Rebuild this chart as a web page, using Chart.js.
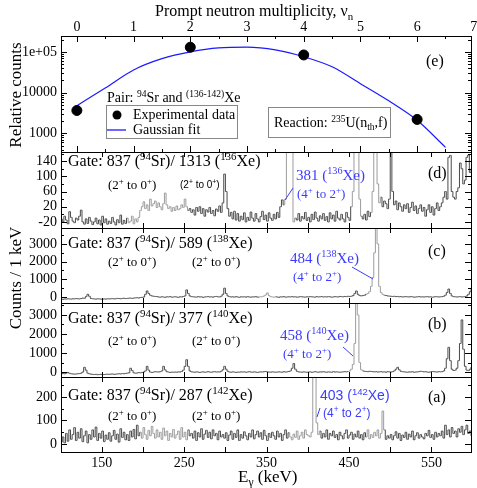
<!DOCTYPE html>
<html>
<head>
<meta charset="utf-8">
<script src="https://cdn.jsdelivr.net/npm/chart.js@4.4.0/dist/chart.umd.min.js"></script>
<style>
  html, body { margin: 0; padding: 0; background: #fff; }
  #wrap { position: relative; width: 477px; height: 488px; }
</style>
</head>
<body>
<div id="wrap"><canvas id="chart" width="477" height="488"></canvas></div>
<script>
// panel (e): multiplicidad de neutrones
const nuPoints = [0, 2, 4, 6]
const nuCounts = [3650, 130000, 84000, 2200]
const fitNu = [0, 0.5, 1, 1.5, 2, 2.5, 3, 3.5, 4, 4.5, 5, 5.5, 6, 6.5]
const fitCounts = [4800, 13000, 36000, 68000, 100000, 125000, 130000, 112000, 76000, 43000, 16600, 6300, 2100, 455]

// espectros: bins de 2 keV desde 100 keV
const binStart = 100
const binWidth = 2

// (d) gate 1313 (136Xe)
const specD = [
  -12,-20,-5,-15,-25,7,-8,-18,-22,-10,
  -15,-5,11,-20,-26,-12,-24,-8,-18,-27,
  -20,-10,-25,-15,-28,-5,-22,-12,-26,-18,
  -24,-8,-20,-28,-14,-22,-2,-26,-16,-24,
  -10,-22,-18,-5,-25,-12,-20,-8,10,20,
  33,15,25,10,40,22,28,35,18,30,
  20,12,28,56,25,15,20,8,18,10,
  22,12,15,25,18,40,20,10,15,5,
  12,-2,18,8,20,2,15,-5,12,6,
  18,2,10,-4,14,8,22,5,30,106,
  60,15,-5,5,-12,8,-15,2,-18,-5,
  -14,4,-20,-8,-16,6,-10,-18,2,-12,
  -20,-6,8,-14,-2,-18,4,-10,-16,0,
  -12,5,-8,20,38,25,40,300,400,400,
  350,-20,-10,-15,2,-18,-6,-12,5,-16,
  -8,-20,0,-14,6,-10,-18,-4,-12,2,
  -16,-6,-20,4,-12,-2,-18,8,-10,-15,
  0,-12,-20,5,-8,-16,20,60,250,300,
  250,40,-5,-12,0,-15,8,-6,5,60,
  350,400,80,30,45,20,35,28,15,40,
  180,60,25,35,12,30,20,8,25,15,
  28,5,18,32,10,22,2,15,25,8,
  18,-5,12,25,5,20,-2,15,30,10,
  20,30,45,60,40,150,155,60,45,40,
  60,70,135,120,80,90,150,156,110,120
]

// (c) gate 589 (138Xe)
const specC = [
  -120,-130,-110,-120,-100,-110,-120,-100,-110,-90,
  -100,-110,-90,-60,-80,20,150,40,-80,-100,
  -110,-120,-100,-110,-120,-130,-110,-120,-100,-110,
  -100,-90,-110,-100,-80,-90,-100,-80,-70,-90,
  -80,-70,-60,-80,-60,-50,-40,-60,-30,-20,
  0,150,340,200,100,60,40,30,20,0,
  -10,10,0,-20,10,0,20,-10,0,10,
  0,-20,10,0,30,60,400,200,60,20,
  10,0,-10,20,0,10,-20,0,10,20,
  0,10,-10,20,30,10,0,40,150,500,
  200,60,20,0,10,-10,20,0,-20,10,
  0,10,-10,20,0,-10,10,0,20,-10,
  0,10,20,60,120,230,80,20,0,-10,
  10,0,-20,10,0,20,-10,0,10,0,
  20,0,10,-10,0,20,10,0,-10,10,
  0,20,10,0,-10,20,0,10,20,0,
  10,0,20,10,-10,0,20,10,0,30,
  20,10,30,20,40,30,40,80,200,340,
  150,80,60,80,100,150,200,300,600,1100,
  2500,8000,3000,600,250,150,100,80,60,50,
  40,30,40,20,30,10,20,0,10,20,
  10,0,20,10,-10,0,10,20,0,10,
  0,10,20,0,10,-10,0,20,10,0,
  10,20,40,100,250,450,200,60,20,10,
  0,10,20,0,10,20,60,150,300,500
]

// (b) gate 377 (140Xe)
const specB = [
  -100,-80,-90,-60,-20,-70,-90,-100,-110,-100,
  -90,-80,-60,0,250,100,-60,-90,-110,-120,
  -130,-120,-140,-130,-120,-140,-130,-120,-110,-120,
  -110,-100,-120,-110,-100,-90,-100,-80,-90,-70,
  -60,-40,200,80,-40,-60,-50,-30,-40,-20,
  0,60,300,100,0,-20,0,20,10,0,
  20,60,300,120,20,0,-20,0,-10,0,
  -10,10,0,30,100,300,650,300,60,10,
  0,-10,10,0,-20,0,10,-10,0,20,
  0,-10,10,20,0,10,0,40,120,300,
  150,40,0,-10,10,0,-20,0,-10,10,
  0,10,-10,0,20,0,-10,10,0,-20,
  0,10,0,20,30,10,0,-10,10,0,
  -10,0,10,0,-10,20,0,10,30,60,
  200,450,150,40,10,0,-10,10,0,-10,
  0,10,-10,0,20,0,-10,10,0,20,
  0,-10,10,0,-10,20,0,10,0,-10,
  0,10,20,10,30,60,150,400,1500,6000,
  3000,500,120,60,40,30,20,40,30,20,
  10,20,0,10,20,0,10,-10,20,10,
  0,20,60,150,250,120,40,20,10,0,
  -10,10,0,20,-10,0,10,20,40,30,
  10,20,0,-10,10,30,20,10,0,20,
  10,20,60,200,700,1300,600,150,80,100,
  200,600,1500,2740,1200,300,100,80,150,260
]

// (a) gate 287 (142Xe)
const specA = [
  8,30,5,45,12,60,20,40,70,15,
  50,25,65,10,35,55,5,40,20,60,
  30,72,15,45,25,55,10,38,20,48,
  12,35,58,20,42,8,65,28,50,18,
  40,15,55,30,62,22,80,35,50,25,
  70,40,20,58,35,75,45,25,60,30,
  50,20,68,35,55,15,45,30,62,25,
  40,55,20,70,30,50,18,60,35,45,
  25,55,15,48,30,65,20,42,58,28,
  50,22,60,35,45,18,55,30,40,25,
  48,15,38,55,20,45,28,60,15,40,
  25,52,35,18,45,30,60,22,40,55,
  30,48,20,58,35,15,45,28,50,35,
  20,55,30,45,15,40,60,25,48,30,
  18,42,28,55,20,35,50,25,60,40,
  35,30,50,300,600,90,40,55,25,45,
  30,60,20,45,35,55,28,40,18,50,
  35,22,45,60,25,38,50,20,42,30,
  55,25,40,18,48,30,60,22,40,28,
  50,35,60,25,45,140,60,20,35,25,
  40,18,35,52,25,45,15,38,28,50,
  20,42,30,55,18,35,48,25,40,30,
  22,45,35,58,28,40,20,50,30,45,
  35,55,25,80,40,60,30,70,45,55,
  30,65,50,75,40,60,80,45,55,35
]

// ticks
const nuTicks = [0, 1, 2, 3, 4, 5, 6, 7]
const energyTicks = [150, 250, 350, 450, 550]
const logTicks = [1000, 10000, 100000]
const dTicks = [-20, 20, 60, 100, 140]
const cTicks = [0, 1000, 2000, 3000]
const bTicks = [0, 1000, 2000, 3000]
const aTicks = [0, 100, 200]

const SERIF = "'Liberation Serif', 'DejaVu Serif', serif"
const SANS = "'Liberation Sans', Arial, sans-serif"
const BLUE = "#3b3bff"
const DARK = "#4a4a4a"
const LIGHT = "#9c9c9c"

// tramos dibujados en gris claro (keV), solo estilo
const lightD = [[180, 254], [370, 384], [452, 464], [476, 488]]
const lightC = [[340, 360], [470, 492]]
const lightB = [[448, 466]]
const lightA = [[196, 254], [376, 414], [470, 492]]

function toPoints(values) {
    return values.map((v, i) => ({ x: binStart + binWidth * i + binWidth / 2, y: v }))
}

function spectrumDataset(values, axis, light) {
    return {
        data: toPoints(values),
        xAxisID: "x",
        yAxisID: axis,
        stepped: "middle",
        borderColor: DARK,
        borderWidth: 1,
        pointRadius: 0,
        fill: false,
        segment: {
            borderColor: (c) => light.some(([a, b]) => c.p0.parsed.x >= a && c.p0.parsed.x < b) ? LIGHT : DARK
        }
    }
}

// texto con super/subindices
function richText(ctx, x, y, parts, size, color, family) {
    ctx.save()
    ctx.fillStyle = color
    ctx.textBaseline = "alphabetic"
    ctx.textAlign = "left"
    let cx = x
    for (const [t, mode] of parts) {
        const fs = mode ? size * 0.68 : size
        ctx.font = fs + "px " + family
        const dy = mode === 1 ? -size * 0.38 : mode === -1 ? size * 0.22 : 0
        ctx.fillText(t, cx, y + dy)
        cx += ctx.measureText(t).width
    }
    ctx.restore()
    return cx
}

function fixedTicks(list) {
    return (scale) => { scale.ticks = list.map(v => ({ value: v })) }
}

// recortar cada espectro a su panel
const panelClip = {
    id: "panelClip",
    beforeDatasetDraw(chart, args) {
        const ds = chart.data.datasets[args.index]
        const ys = chart.scales[ds.yAxisID]
        const ca = chart.chartArea
        chart.ctx.save()
        chart.ctx.beginPath()
        chart.ctx.rect(ca.left, ys.top, ca.right - ca.left, ys.bottom - ys.top)
        chart.ctx.clip()
    },
    afterDatasetDraw(chart) {
        chart.ctx.restore()
    }
}

// marcos, ticks hacia adentro y anotaciones
const frames = {
    id: "frames",
    afterDraw(chart) {
        const ctx = chart.ctx
        const ca = chart.chartArea
        const L = ca.left, R = ca.right
        const xs = chart.scales.x
        const xn = chart.scales.xn
        ctx.save()
        ctx.strokeStyle = "#000"
        ctx.lineWidth = 1

        function hline(x1, x2, y) { ctx.beginPath(); ctx.moveTo(x1, y); ctx.lineTo(x2, y); ctx.stroke() }
        function vline(x, y1, y2) { ctx.beginPath(); ctx.moveTo(x, y1); ctx.lineTo(x, y2); ctx.stroke() }

        const ids = ["ye", "yd", "yc", "yb", "ya"]
        for (const id of ids) {
            const s = chart.scales[id]
            ctx.strokeRect(Math.round(L) + 0.5, Math.round(s.top) + 0.5, Math.round(R - L), Math.round(s.bottom - s.top))
        }

        // panel e: ticks de nu
        const e = chart.scales.ye
        for (let v = 0; v <= 7; v += 0.5) {
            const px = Math.round(xn.getPixelForValue(v)) + 0.5
            if (px <= L + 1 || px >= R - 1) continue
            const len = Number.isInteger(v) ? 6 : 3
            vline(px, e.top, e.top + len)
            vline(px, e.bottom, e.bottom - len)
        }
        ctx.fillStyle = "#000"
        ctx.font = "14px " + SERIF
        ctx.textAlign = "center"
        ctx.textBaseline = "middle"
        for (const v of nuTicks) {
            ctx.fillText(String(v), xn.getPixelForValue(v), 27)
        }
        // log ticks
        for (let k = 2; k <= 5; k++) {
            for (let m = 1; m <= 9; m++) {
                const v = m * Math.pow(10, k)
                if (v < e.min || v > e.max) continue
                const py = Math.round(e.getPixelForValue(v)) + 0.5
                const len = m === 1 ? 6 : 3
                hline(L, L + len, py)
                hline(R, R - len, py)
            }
        }

        // paneles de espectros
        const spec = [["yd", 20, -20], ["yc", 500, 0], ["yb", 500, 0], ["ya", 50, 0]]
        for (const [id, step, start] of spec) {
            const s = chart.scales[id]
            for (let v = start - step * 4; v <= s.max; v += step) {
                if (v < s.min) continue
                const py = Math.round(s.getPixelForValue(v)) + 0.5
                const major = s.ticks.some(t => t.value === v)
                const len = major ? 6 : 3
                hline(L, L + len, py)
                hline(R, R - len, py)
            }
            for (let ev = 150; ev < xs.max; ev += 50) {
                const px = Math.round(xs.getPixelForValue(ev)) + 0.5
                vline(px, s.top, s.top + 5)
                vline(px, s.bottom, s.bottom - 5)
            }
        }
        ctx.restore()

        // titulos de ejes
        ctx.save()
        ctx.fillStyle = "#000"
        ctx.textAlign = "center"
        ctx.font = "17px " + SERIF
        ctx.translate(21, 95)
        ctx.rotate(-Math.PI / 2)
        ctx.fillText("Relative counts", 0, 0)
        ctx.restore()
        ctx.save()
        ctx.fillStyle = "#000"
        ctx.textAlign = "center"
        ctx.font = "17px " + SERIF
        ctx.translate(21, 278)
        ctx.rotate(-Math.PI / 2)
        ctx.fillText("Counts / 1 keV", 0, 0)
        ctx.restore()

        richText(ctx, 155, 16, [["Prompt neutron multiplicity, \u03bd", 0], ["n", -1]], 16, "#000", SERIF)
        richText(ctx, 238, 482, [["E", 0], ["\u03b3", -1], [" (keV)", 0]], 17, "#000", SERIF)

        // leyenda panel e
        richText(ctx, 107, 102, [["Pair: ", 0], ["94", 1], ["Sr and ", 0], ["(136-142)", 1], ["Xe", 0]], 14, "#000", SERIF)
        ctx.save()
        ctx.strokeStyle = "#888"
        ctx.lineWidth = 1
        ctx.strokeRect(106.5, 105.5, 131, 33)
        ctx.fillStyle = "#000"
        ctx.beginPath()
        ctx.arc(117, 115, 4.5, 0, Math.PI * 2)
        ctx.fill()
        ctx.strokeStyle = "#1a1aff"
        ctx.lineWidth = 1.3
        ctx.beginPath()
        ctx.moveTo(107, 130)
        ctx.lineTo(126, 130)
        ctx.stroke()
        ctx.strokeStyle = "#888"
        ctx.lineWidth = 1
        ctx.strokeRect(268.5, 107.5, 122, 30)
        ctx.restore()
        richText(ctx, 133, 119, [["Experimental data", 0]], 14, "#000", SERIF)
        richText(ctx, 133, 134, [["Gaussian fit", 0]], 14, "#000", SERIF)
        richText(ctx, 274, 127, [["Reaction: ", 0], ["235", 1], ["U(n", 0], ["th", -1], [",f)", 0]], 14, "#000", SERIF)
        richText(ctx, 426, 66, [["(e)", 0]], 16, "#000", SERIF)

        // panel d
        richText(ctx, 68, 166, [["Gate: 837 (", 0], ["94", 1], ["Sr)/ 1313 (", 0], ["136", 1], ["Xe)", 0]], 16, "#000", SERIF)
        richText(ctx, 108, 189, [["(2", 0], ["+", 1], [" to 0", 0], ["+", 1], [")", 0]], 13, "#000", SERIF)
        richText(ctx, 180, 188, [["(2", 0], ["+", 1], [" to 0", 0], ["+", 1], [")", 0]], 10, "#000", SANS)
        richText(ctx, 296, 180, [["381 (", 0], ["136", 1], ["Xe)", 0]], 15, BLUE, SERIF)
        richText(ctx, 297, 198, [["(4", 0], ["+", 1], [" to 2", 0], ["+", 1], [")", 0]], 13, BLUE, SERIF)
        richText(ctx, 428, 178, [["(d)", 0]], 16, "#000", SERIF)

        // panel c
        richText(ctx, 68, 248, [["Gate: 837 (", 0], ["94", 1], ["Sr)/ 589 (", 0], ["138", 1], ["Xe)", 0]], 16, "#000", SERIF)
        richText(ctx, 108, 266, [["(2", 0], ["+", 1], [" to 0", 0], ["+", 1], [")", 0]], 13, "#000", SERIF)
        richText(ctx, 192, 266, [["(2", 0], ["+", 1], [" to 0", 0], ["+", 1], [")", 0]], 13, "#000", SERIF)
        richText(ctx, 290, 263, [["484 (", 0], ["138", 1], ["Xe)", 0]], 15, BLUE, SERIF)
        richText(ctx, 293, 281, [["(4", 0], ["+", 1], [" to 2", 0], ["+", 1], [")", 0]], 13, BLUE, SERIF)
        richText(ctx, 428, 256, [["(c)", 0]], 16, "#000", SERIF)

        // panel b
        richText(ctx, 68, 323, [["Gate: 837 (", 0], ["94", 1], ["Sr)/ 377 (", 0], ["140", 1], ["Xe)", 0]], 16, "#000", SERIF)
        richText(ctx, 108, 345, [["(2", 0], ["+", 1], [" to 0", 0], ["+", 1], [")", 0]], 13, "#000", SERIF)
        richText(ctx, 192, 345, [["(2", 0], ["+", 1], [" to 0", 0], ["+", 1], [")", 0]], 13, "#000", SERIF)
        richText(ctx, 280, 340, [["458 (", 0], ["140", 1], ["Xe)", 0]], 15, BLUE, SERIF)
        richText(ctx, 283, 358, [["(4", 0], ["+", 1], [" to 2", 0], ["+", 1], [")", 0]], 13, BLUE, SERIF)
        richText(ctx, 428, 329, [["(b)", 0]], 16, "#000", SERIF)

        // panel a
        richText(ctx, 68, 400, [["Gate: 837 (", 0], ["94", 1], ["Sr)/ 287 (", 0], ["142", 1], ["Xe)", 0]], 16, "#000", SERIF)
        richText(ctx, 108, 420, [["(2", 0], ["+", 1], [" to 0", 0], ["+", 1], [")", 0]], 13, "#000", SERIF)
        richText(ctx, 192, 420, [["(2", 0], ["+", 1], [" to 0", 0], ["+", 1], [")", 0]], 13, "#000", SERIF)
        richText(ctx, 320, 400, [["403 (", 0], ["142", 1], ["Xe)", 0]], 14, BLUE, SANS)
        richText(ctx, 323, 417, [["(4", 0], ["+", 1], [" to 2", 0], ["+", 1], [")", 0]], 12, BLUE, SANS)
        richText(ctx, 428, 402, [["(a)", 0]], 16, "#000", SERIF)

        // lineas indicadoras
        ctx.save()
        ctx.strokeStyle = BLUE
        ctx.lineWidth = 1
        const pointers = [[285, 200, 293, 188], [352, 267, 373, 279], [343, 347, 353, 356], [317, 417, 320, 408]]
        for (const [x1, y1, x2, y2] of pointers) {
            ctx.beginPath(); ctx.moveTo(x1, y1); ctx.lineTo(x2, y2); ctx.stroke()
        }
        ctx.restore()
    }
}

Chart.defaults.font.family = SERIF
Chart.defaults.color = "#000"

const yCommon = {
    stack: "panels",
    grid: { display: false, drawTicks: false },
    border: { display: false },
    afterFit: (s) => { s.width = 61 },
    ticks: { font: { size: 14 }, padding: 4, autoSkip: false, callback: (v) => String(v) }
}

new Chart(document.getElementById("chart"), {
    type: "line",
    data: {
        datasets: [
            {
                type: "scatter",
                label: "Experimental data",
                data: nuPoints.map((v, i) => ({ x: v, y: nuCounts[i] })),
                xAxisID: "xn",
                yAxisID: "ye",
                backgroundColor: "#000",
                borderColor: "#000",
                pointRadius: 5
            },
            {
                label: "Gaussian fit",
                data: fitNu.map((v, i) => ({ x: v, y: fitCounts[i] })),
                xAxisID: "xn",
                yAxisID: "ye",
                borderColor: "#1a1aff",
                borderWidth: 1.2,
                pointRadius: 0,
                cubicInterpolationMode: "monotone"
            },
            spectrumDataset(specD, "yd", lightD),
            spectrumDataset(specC, "yc", lightC),
            spectrumDataset(specB, "yb", lightB),
            spectrumDataset(specA, "ya", lightA)
        ]
    },
    options: {
        responsive: false,
        animation: false,
        layout: { padding: { left: 0, right: 4, top: 0, bottom: 0 } },
        plugins: { legend: { display: false }, tooltip: { enabled: false } },
        scales: {
            x: {
                type: "linear", position: "bottom", min: 100.5, max: 598,
                grid: { display: false, drawTicks: false }, border: { display: false },
                afterBuildTicks: fixedTicks(energyTicks),
                afterFit: (s) => { s.height = 36 },
                ticks: { font: { size: 14 }, padding: 3, maxRotation: 0, callback: (v) => String(v) }
            },
            xn: {
                type: "linear", position: "top", min: -0.28, max: 6.95,
                grid: { display: false, drawTicks: false }, border: { display: false },
                afterBuildTicks: fixedTicks(nuTicks),
                afterFit: (s) => { s.height = 36 },
                ticks: { display: false }
            },
            ya: { ...yCommon, type: "linear", weight: 1, stackWeight: 75, min: -34, max: 285,
                afterBuildTicks: fixedTicks(aTicks) },
            yb: { ...yCommon, type: "linear", weight: 2, stackWeight: 74, min: -260, max: 3630,
                afterBuildTicks: fixedTicks(bTicks) },
            yc: { ...yCommon, type: "linear", weight: 3, stackWeight: 75, min: -340, max: 3900,
                afterBuildTicks: fixedTicks(cTicks) },
            yd: { ...yCommon, type: "linear", weight: 4, stackWeight: 76, min: -36, max: 164,
                afterBuildTicks: fixedTicks(dTicks) },
            ye: { ...yCommon, type: "logarithmic", weight: 5, stackWeight: 116, min: 350, max: 245000,
                afterBuildTicks: fixedTicks(logTicks),
                ticks: { ...yCommon.ticks, callback: (v) => v === 100000 ? "1e+05" : String(v) } }
        }
    },
    plugins: [panelClip, frames]
})
</script>
</body>
</html>
